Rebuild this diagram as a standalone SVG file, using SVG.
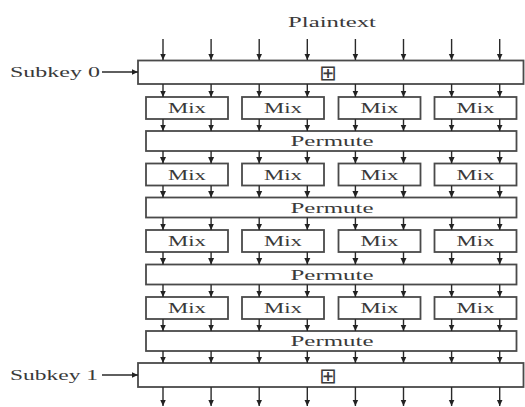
<svg xmlns="http://www.w3.org/2000/svg" width="525" height="407" viewBox="0 0 525 407">
<style>
.box{fill:#fff;stroke:#4a4a4a;stroke-width:1.8}
.t{font-family:"Liberation Serif","Times New Roman",serif;font-size:15px;fill:#3a3a3a}
.c{text-anchor:middle}
.sym{font-family:"DejaVu Sans",sans-serif;font-size:21px;fill:#3a3a3a;text-anchor:middle}
.ar{stroke:#2a2a2a;stroke-width:1.4;fill:none;marker-end:url(#ah)}
</style>
<defs>
<marker id="ah" markerUnits="userSpaceOnUse" markerWidth="7" markerHeight="7" refX="6.5" refY="3.5" orient="auto">
<path d="M0,0.5 L6.5,3.5 L0,6.5 z" fill="#222"/>
</marker>
</defs>
<rect width="525" height="407" fill="#fff"/>
<text class="t c" x="332" y="27" textLength="88" lengthAdjust="spacingAndGlyphs">Plaintext</text>
<g id="subkey0">
<rect class="box" x="138" y="60.5" width="385.5" height="23.5"/>
<text class="sym" x="328" y="80">⊞</text>
</g>
<text id="subkey0-label" class="t" x="10" y="77" textLength="90" lengthAdjust="spacingAndGlyphs">Subkey 0</text>
<g id="mix1">
<rect class="box" x="146" y="97" width="82" height="22"/><text class="t c" x="187" y="113" textLength="38" lengthAdjust="spacingAndGlyphs">Mix</text>
<rect class="box" x="242" y="97" width="82" height="22"/><text class="t c" x="283" y="113" textLength="38" lengthAdjust="spacingAndGlyphs">Mix</text>
<rect class="box" x="338.5" y="97" width="82" height="22"/><text class="t c" x="379.5" y="113" textLength="38" lengthAdjust="spacingAndGlyphs">Mix</text>
<rect class="box" x="434.5" y="97" width="82" height="22"/><text class="t c" x="475.5" y="113" textLength="38" lengthAdjust="spacingAndGlyphs">Mix</text>
</g>
<g id="permute1"><rect class="box" x="146" y="131" width="370.5" height="20"/><text class="t c" x="332" y="146" textLength="83" lengthAdjust="spacingAndGlyphs">Permute</text></g>
<g id="mix2">
<rect class="box" x="146" y="163.5" width="82" height="22"/><text class="t c" x="187" y="179.5" textLength="38" lengthAdjust="spacingAndGlyphs">Mix</text>
<rect class="box" x="242" y="163.5" width="82" height="22"/><text class="t c" x="283" y="179.5" textLength="38" lengthAdjust="spacingAndGlyphs">Mix</text>
<rect class="box" x="338.5" y="163.5" width="82" height="22"/><text class="t c" x="379.5" y="179.5" textLength="38" lengthAdjust="spacingAndGlyphs">Mix</text>
<rect class="box" x="434.5" y="163.5" width="82" height="22"/><text class="t c" x="475.5" y="179.5" textLength="38" lengthAdjust="spacingAndGlyphs">Mix</text>
</g>
<g id="permute2"><rect class="box" x="146" y="197.5" width="370.5" height="20"/><text class="t c" x="332" y="212.5" textLength="83" lengthAdjust="spacingAndGlyphs">Permute</text></g>
<g id="mix3">
<rect class="box" x="146" y="230" width="82" height="22"/><text class="t c" x="187" y="246" textLength="38" lengthAdjust="spacingAndGlyphs">Mix</text>
<rect class="box" x="242" y="230" width="82" height="22"/><text class="t c" x="283" y="246" textLength="38" lengthAdjust="spacingAndGlyphs">Mix</text>
<rect class="box" x="338.5" y="230" width="82" height="22"/><text class="t c" x="379.5" y="246" textLength="38" lengthAdjust="spacingAndGlyphs">Mix</text>
<rect class="box" x="434.5" y="230" width="82" height="22"/><text class="t c" x="475.5" y="246" textLength="38" lengthAdjust="spacingAndGlyphs">Mix</text>
</g>
<g id="permute3"><rect class="box" x="146" y="264.5" width="370.5" height="20"/><text class="t c" x="332" y="279.5" textLength="83" lengthAdjust="spacingAndGlyphs">Permute</text></g>
<g id="mix4">
<rect class="box" x="146" y="297" width="82" height="22"/><text class="t c" x="187" y="313" textLength="38" lengthAdjust="spacingAndGlyphs">Mix</text>
<rect class="box" x="242" y="297" width="82" height="22"/><text class="t c" x="283" y="313" textLength="38" lengthAdjust="spacingAndGlyphs">Mix</text>
<rect class="box" x="338.5" y="297" width="82" height="22"/><text class="t c" x="379.5" y="313" textLength="38" lengthAdjust="spacingAndGlyphs">Mix</text>
<rect class="box" x="434.5" y="297" width="82" height="22"/><text class="t c" x="475.5" y="313" textLength="38" lengthAdjust="spacingAndGlyphs">Mix</text>
</g>
<g id="permute4"><rect class="box" x="146" y="331" width="370.5" height="20"/><text class="t c" x="332" y="346" textLength="83" lengthAdjust="spacingAndGlyphs">Permute</text></g>
<g id="subkey1">
<rect class="box" x="138" y="363" width="385.5" height="24"/>
<text class="sym" x="328" y="382.5">⊞</text>
</g>
<text id="subkey1-label" class="t" x="10" y="380" textLength="88" lengthAdjust="spacingAndGlyphs">Subkey 1</text>
<g id="connectors">
<line class="ar" x1="102" y1="72" x2="138" y2="72"/>
<line class="ar" x1="102" y1="375" x2="138" y2="375"/>
<path class="ar" d="M163,39V60"/><path class="ar" d="M211.1,39V60"/><path class="ar" d="M259.2,39V60"/><path class="ar" d="M307.3,39V60"/><path class="ar" d="M355.4,39V60"/><path class="ar" d="M403.5,39V60"/><path class="ar" d="M451.6,39V60"/><path class="ar" d="M499.7,39V60"/>
<path class="ar" d="M163,84V97"/><path class="ar" d="M211.1,84V97"/><path class="ar" d="M259.2,84V97"/><path class="ar" d="M307.3,84V97"/><path class="ar" d="M355.4,84V97"/><path class="ar" d="M403.5,84V97"/><path class="ar" d="M451.6,84V97"/><path class="ar" d="M499.7,84V97"/>
<path class="ar" d="M163,119V131"/><path class="ar" d="M211.1,119V131"/><path class="ar" d="M259.2,119V131"/><path class="ar" d="M307.3,119V131"/><path class="ar" d="M355.4,119V131"/><path class="ar" d="M403.5,119V131"/><path class="ar" d="M451.6,119V131"/><path class="ar" d="M499.7,119V131"/>
<path class="ar" d="M163,151V163.5"/><path class="ar" d="M211.1,151V163.5"/><path class="ar" d="M259.2,151V163.5"/><path class="ar" d="M307.3,151V163.5"/><path class="ar" d="M355.4,151V163.5"/><path class="ar" d="M403.5,151V163.5"/><path class="ar" d="M451.6,151V163.5"/><path class="ar" d="M499.7,151V163.5"/>
<path class="ar" d="M163,185.5V197.5"/><path class="ar" d="M211.1,185.5V197.5"/><path class="ar" d="M259.2,185.5V197.5"/><path class="ar" d="M307.3,185.5V197.5"/><path class="ar" d="M355.4,185.5V197.5"/><path class="ar" d="M403.5,185.5V197.5"/><path class="ar" d="M451.6,185.5V197.5"/><path class="ar" d="M499.7,185.5V197.5"/>
<path class="ar" d="M163,217.5V230"/><path class="ar" d="M211.1,217.5V230"/><path class="ar" d="M259.2,217.5V230"/><path class="ar" d="M307.3,217.5V230"/><path class="ar" d="M355.4,217.5V230"/><path class="ar" d="M403.5,217.5V230"/><path class="ar" d="M451.6,217.5V230"/><path class="ar" d="M499.7,217.5V230"/>
<path class="ar" d="M163,252V264.5"/><path class="ar" d="M211.1,252V264.5"/><path class="ar" d="M259.2,252V264.5"/><path class="ar" d="M307.3,252V264.5"/><path class="ar" d="M355.4,252V264.5"/><path class="ar" d="M403.5,252V264.5"/><path class="ar" d="M451.6,252V264.5"/><path class="ar" d="M499.7,252V264.5"/>
<path class="ar" d="M163,284.5V297"/><path class="ar" d="M211.1,284.5V297"/><path class="ar" d="M259.2,284.5V297"/><path class="ar" d="M307.3,284.5V297"/><path class="ar" d="M355.4,284.5V297"/><path class="ar" d="M403.5,284.5V297"/><path class="ar" d="M451.6,284.5V297"/><path class="ar" d="M499.7,284.5V297"/>
<path class="ar" d="M163,319V331"/><path class="ar" d="M211.1,319V331"/><path class="ar" d="M259.2,319V331"/><path class="ar" d="M307.3,319V331"/><path class="ar" d="M355.4,319V331"/><path class="ar" d="M403.5,319V331"/><path class="ar" d="M451.6,319V331"/><path class="ar" d="M499.7,319V331"/>
<path class="ar" d="M163,351V363"/><path class="ar" d="M211.1,351V363"/><path class="ar" d="M259.2,351V363"/><path class="ar" d="M307.3,351V363"/><path class="ar" d="M355.4,351V363"/><path class="ar" d="M403.5,351V363"/><path class="ar" d="M451.6,351V363"/><path class="ar" d="M499.7,351V363"/>
<path class="ar" d="M163,387V406"/><path class="ar" d="M211.1,387V406"/><path class="ar" d="M259.2,387V406"/><path class="ar" d="M307.3,387V406"/><path class="ar" d="M355.4,387V406"/><path class="ar" d="M403.5,387V406"/><path class="ar" d="M451.6,387V406"/><path class="ar" d="M499.7,387V406"/>
</g>
</svg>
